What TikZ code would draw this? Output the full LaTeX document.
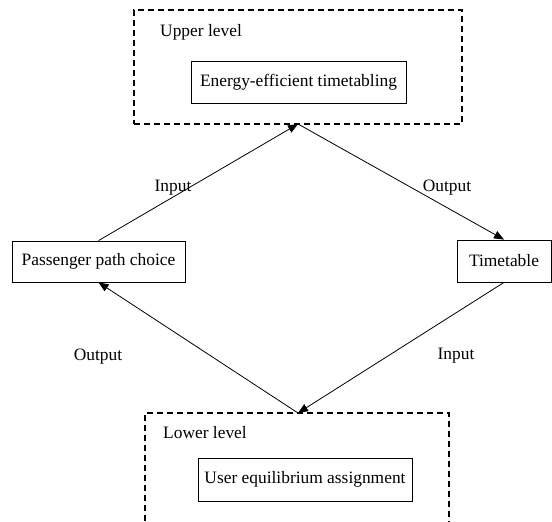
\documentclass[tikz,border=0pt]{standalone}
\usepackage{fontspec}
\setmainfont{Liberation Serif}
\usetikzlibrary{arrows.meta}
\begin{document}
\begin{tikzpicture}[x=1pt,y=-1pt,
  box/.style={draw, line width=0.8pt, inner sep=0pt, font=\fontsize{17.4}{20}\selectfont},
  lvl/.style={draw, line width=1.3pt, dash pattern=on 6pt off 4pt, inner sep=0pt},
  lbl/.style={font=\fontsize{17.4}{20}\selectfont, inner sep=0pt},
  conn/.style={line width=0.8pt, -{Triangle[length=10pt,width=8pt]}}]
\useasboundingbox (0,0) rectangle (552,522);
\clip (0,0) rectangle (552,522);
% upper level
\node[lvl, minimum width=328pt, minimum height=114pt] (up) at (298,67) {};
\node[lbl, anchor=west] (uplbl) at (160,32) {Upper level};
\node[box, minimum width=215pt, minimum height=42pt] (eet) at (298.5,82) {Energy-efficient timetabling};
% lower level
\node[lvl, minimum width=304pt, minimum height=120pt] (low) at (297,473) {};
\node[lbl, anchor=west] (lowlbl) at (163,433) {Lower level};
\node[box, minimum width=214pt, minimum height=43pt] (uea) at (305,479.5) {User equilibrium assignment};
% side boxes
\node[box, minimum width=173pt, minimum height=41pt] (ppc) at (98.5,261.5) {Passenger path choice};
\node[box, minimum width=94pt, minimum height=42pt] (tt) at (504,261) {Timetable};
% connection points
\coordinate (uptip) at (298,124);
\coordinate (lowtip) at (298,413);
\draw[conn] (ppc.north) -- (uptip);
\draw[conn] (uptip) -- (tt.north);
\draw[conn] (tt.south) -- (lowtip);
\draw[conn] (lowtip) -- (ppc.south);
% labels
\node[lbl] (in1) at (173,188) {Input};
\node[lbl] (out1) at (447,188) {Output};
\node[lbl] (out2) at (98,357) {Output};
\node[lbl] (in2) at (456,356) {Input};
\end{tikzpicture}
\end{document}
